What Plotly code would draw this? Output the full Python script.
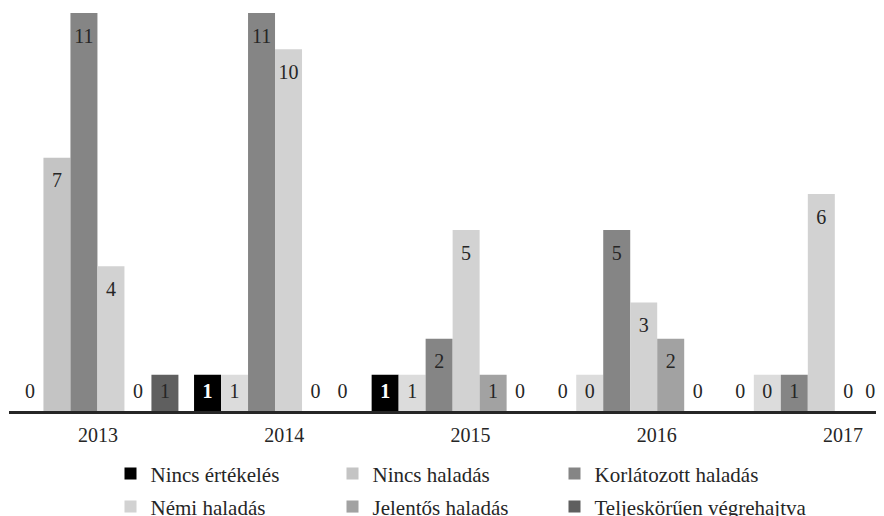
import plotly.graph_objects as go

years = ["2013", "2014", "2015", "2016", "2017"]

series_names = [
    "Nincs értékelés",
    "Nincs haladás",
    "Korlátozott haladás",
    "Némi haladás",
    "Jelentős haladás",
    "Teljeskörűen végrehajtva",
]

nincs_ertekeles = [0, 1, 1, 0, 0]
nincs_haladas = [7, 1, 1, 1, 1]
korlatozott_haladas = [11, 11, 2, 5, 1]
nemi_haladas = [4, 10, 5, 3, 6]
jelentos_haladas = [0, 0, 1, 2, 0]
teljeskoruen = [1, 0, 0, 0, 0]

# data labels as printed on the chart
nincs_ertekeles_labels = [0, 1, 1, 0, 0]
nincs_haladas_labels = [7, 1, 1, 0, 0]
korlatozott_haladas_labels = [11, 11, 2, 5, 1]
nemi_haladas_labels = [4, 10, 5, 3, 6]
jelentos_haladas_labels = [0, 0, 1, 2, 0]
teljeskoruen_labels = [1, 0, 0, 0, 0]

values = [nincs_ertekeles, nincs_haladas, korlatozott_haladas,
          nemi_haladas, jelentos_haladas, teljeskoruen]
labels = [nincs_ertekeles_labels, nincs_haladas_labels, korlatozott_haladas_labels,
          nemi_haladas_labels, jelentos_haladas_labels, teljeskoruen_labels]

colors = [
    ["#000000"] * 5,
    ["#c4c4c4", "#dcdcdc", "#dcdcdc", "#dcdcdc", "#dcdcdc"],
    ["#858585"] * 5,
    ["#d2d2d2"] * 5,
    ["#a2a2a2"] * 5,
    ["#5f5f5f"] * 5,
]
text_colors = ["#ffffff", "#262626", "#262626", "#262626", "#262626", "#262626"]

FONT = "Liberation Serif"
fig = go.Figure()

legend_of = ["legend", "legend", "legend", "legend2", "legend2", "legend3"]

for i, name in enumerate(series_names):
    fig.add_trace(go.Bar(
        x=years, y=values[i], name=name,
        marker=dict(color=colors[i], line=dict(width=0)),
        offsetgroup=str(i), legend=legend_of[i],
        hoverinfo="x+y+name",
    ))

n = len(years)
for i, name in enumerate(series_names):
    ys = [max(v - 0.68, 0.5) for v in values[i]]
    txt = [("<b>%d</b>" % t) if i == 0 and t > 0 else str(t) for t in labels[i]]
    pos = ["middle center"] * n
    if i == len(series_names) - 1:
        pos[-1] = "middle left"   # last label pulled in from the right edge
    fig.add_trace(go.Scatter(
        x=years, y=ys, mode="text", text=txt,
        textposition=pos,
        textfont=dict(family=FONT, size=20,
                      color=[text_colors[i] if t > 0 else "#262626" for t in labels[i]]),
        offsetgroup=str(i), showlegend=False, hoverinfo="skip",
        cliponaxis=False,
    ))

# invisible trace that carries the year tick labels
fig.add_trace(go.Scatter(
    x=list(range(n)), y=[None] * n, xaxis="x2",
    mode="markers", showlegend=False, hoverinfo="skip",
))

legend_common = dict(
    orientation="h", xanchor="left", yanchor="middle",
    entrywidth=177, entrywidthmode="pixels",
    font=dict(family=FONT, size=21, color="#262626"),
    bgcolor="rgba(0,0,0,0)", borderwidth=0, traceorder="normal",
)
legend_last = dict(legend_common)
legend_last.pop("entrywidth")
legend_last.pop("entrywidthmode")

LX = 0.116
COL = 222 / 875.0
fig.update_layout(
    width=876, height=508,
    margin=dict(l=1, r=0, t=5, b=105, autoexpand=False),
    paper_bgcolor="white", plot_bgcolor="white",
    barmode="group", bargap=0.088, bargroupgap=0,
    scattermode="group", scattergap=0.088,
    font=dict(family=FONT, color="#262626"),
    xaxis=dict(
        type="category", range=[-0.498, 4.429],
        showticklabels=False, ticks="", showgrid=False, zeroline=False,
        showline=True, linecolor="#262626", linewidth=3,
    ),
    xaxis2=dict(
        overlaying="x", anchor="y", side="bottom", type="linear",
        range=[-0.478, 4.220],
        tickmode="array", tickvals=list(range(n)), ticktext=years,
        showgrid=False, zeroline=False, showline=False, ticks="",
        ticklabelstandoff=10,
        tickfont=dict(family=FONT, size=20, color="#262626"),
    ),
    yaxis=dict(range=[0, 11], visible=False, showgrid=False, zeroline=False),
    legend=dict(x=LX, y=-0.158, **legend_common),
    legend2=dict(x=LX, y=-0.241, **legend_common),
    legend3=dict(x=LX + 2 * COL, y=-0.241, **legend_last),
    showlegend=True,
)

fig.write_html("out.html")
